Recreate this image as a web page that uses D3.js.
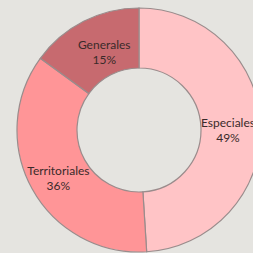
<!DOCTYPE html>
<html>
<head>
<meta charset="utf-8">
<script src="https://cdn.jsdelivr.net/npm/d3@7"></script>
<style>
  html, body { margin: 0; padding: 0; background: #e5e4e0; }
  svg { display: block; }
</style>
</head>
<body>
<svg id="chart" width="253" height="253"></svg>
<script>
// categorías y valores (porcentaje)
const categorias = ["Especiales", "Territoriales", "Generales"];
const valores = [49, 36, 15];
const colores = ["#ffc4c6", "#ff9597", "#c76a6f"];

const svg = d3.select("#chart");
const cx = 139, cy = 130;
const outerR = 122, innerR = 62;

const g = svg.append("g")
  .attr("transform", `translate(${cx},${cy})`);

const datos = categorias.map((c, i) => ({ cat: c, val: valores[i] }));

const pie = d3.pie()
  .sort(null)
  .value(d => d.val);

const arc = d3.arc()
  .innerRadius(innerR)
  .outerRadius(outerR);

const labelArc = d3.arc()
  .innerRadius(92)
  .outerRadius(92);

const color = d3.scaleOrdinal()
  .domain(categorias)
  .range(colores);

const arcs = pie(datos);

g.selectAll("path.slice")
  .data(arcs)
  .enter()
  .append("path")
    .attr("class", "slice")
    .attr("d", arc)
    .attr("fill", d => color(d.data.cat))
    .attr("stroke", "#9a8c8c")
    .attr("stroke-width", 1.2);

// ajuste manual pequeño de etiquetas
const offsets = { Especiales: [-3, 3], Territoriales: [0, 4], Generales: [7, 4] };

const labels = g.selectAll("g.label")
  .data(arcs)
  .enter()
  .append("g")
    .attr("class", "label")
    .attr("transform", d => {
      const [x, y] = labelArc.centroid(d);
      const o = offsets[d.data.cat];
      return `translate(${x + o[0]},${y + o[1]})`;
    });

labels.append("text")
  .attr("text-anchor", "middle")
  .attr("y", -3)
  .attr("fill", "#3a2a2a")
  .attr("font-family", "Lato, 'Open Sans', sans-serif")
  .attr("font-size", "12px")
  .text(d => d.data.cat);

labels.append("text")
  .attr("text-anchor", "middle")
  .attr("y", 12)
  .attr("fill", "#3a2a2a")
  .attr("font-family", "Lato, 'Open Sans', sans-serif")
  .attr("font-size", "12px")
  .text(d => d.data.val + "%");
</script>
</body>
</html>
